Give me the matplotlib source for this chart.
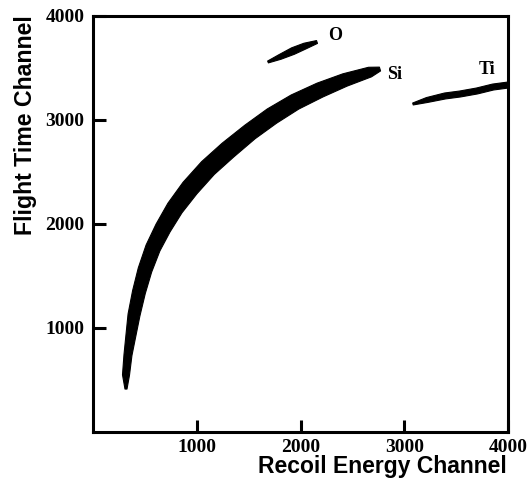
import matplotlib
matplotlib.use("Agg")
import matplotlib.pyplot as plt
from matplotlib.patches import Polygon
import numpy as np

# ---- data ----
si_energy = [318, 318, 337, 366, 395, 443, 501, 578, 675, 790, 935, 1108, 1301, 1513, 1725, 1947, 2188, 2429, 2670, 2766]
si_time   = [413, 548, 740, 933, 1125, 1346, 1558, 1769, 1961, 2154, 2346, 2538, 2711, 2885, 3038, 3173, 3288, 3385, 3461, 3490]
si_spread = [2, 7, 8, 10, 12, 13, 14, 15, 16, 17, 18, 18, 18, 17, 17, 16, 15, 13, 10, 4]

o_energy = [1687, 1802, 1928, 2043, 2159]
o_time   = [3558, 3606, 3663, 3711, 3750]
o_spread = [2, 5, 7, 6, 3]

ti_energy = [3084, 3219, 3393, 3538, 3701, 3856, 4000]
ti_time   = [3154, 3192, 3231, 3250, 3279, 3317, 3336]
ti_spread = [2, 5, 6, 6, 6, 6, 6]

band_labels = ["O", "Si", "Ti"]
label_energy = [2333, 2911, 3798]
label_time = [3817, 3442, 3490]

x_ticks = [1000, 2000, 3000, 4000]
y_ticks = [1000, 2000, 3000, 4000]

# ---- figure ----
fig = plt.figure(figsize=(5.31, 4.92), dpi=100)
ax = fig.add_axes([93/531, 60/492, 415/531, 416/492])
ax.set_xlim(0, 4000)
ax.set_ylim(0, 4000)


def band(xs, ys, spread):
    pts = ax.transData.transform(np.column_stack([xs, ys]))
    tang = np.gradient(pts, axis=0)
    tang /= np.linalg.norm(tang, axis=1, keepdims=True)
    norm = np.column_stack([-tang[:, 1], tang[:, 0]])
    half = np.asarray(spread, dtype=float)[:, None] / 2
    upper = pts + norm * half
    lower = pts - norm * half
    poly_px = np.vstack([upper, lower[::-1]])
    poly = ax.transData.inverted().transform(poly_px)
    ax.add_patch(Polygon(poly, closed=True, facecolor="black",
                         edgecolor="black", linewidth=0.8, joinstyle="round"))


band(si_energy, si_time, si_spread)
band(o_energy, o_time, o_spread)
band(ti_energy, ti_time, ti_spread)

for lab, ex, ty in zip(band_labels, label_energy, label_time):
    ax.text(ex, ty, lab, ha="center", va="center", fontsize=13,
            fontweight="bold", family="Liberation Serif")

ax.set_xticks(x_ticks)
ax.set_yticks(y_ticks)
ax.set_xticklabels([str(v) for v in x_ticks])
ax.set_yticklabels([str(v) for v in y_ticks])
ax.tick_params(direction="in", length=9, width=2.2, labelsize=14, pad=5)
ax.tick_params(axis="y", pad=6)
for lbl in ax.get_xticklabels() + ax.get_yticklabels():
    lbl.set_family("Liberation Serif")
    lbl.set_fontweight("bold")
for s in ax.spines.values():
    s.set_linewidth(2.2)

fig.text(507/531, 19/492, "Recoil Energy Channel", ha="right", va="baseline",
         fontsize=16.5, fontweight="bold", family="Liberation Sans")
fig.text(26/531, 1 - 15/492, "Flight Time Channel", ha="center", va="top",
         rotation=90, fontsize=16.7, fontweight="bold", family="Liberation Sans")

fig.savefig("out.png", dpi=100)
